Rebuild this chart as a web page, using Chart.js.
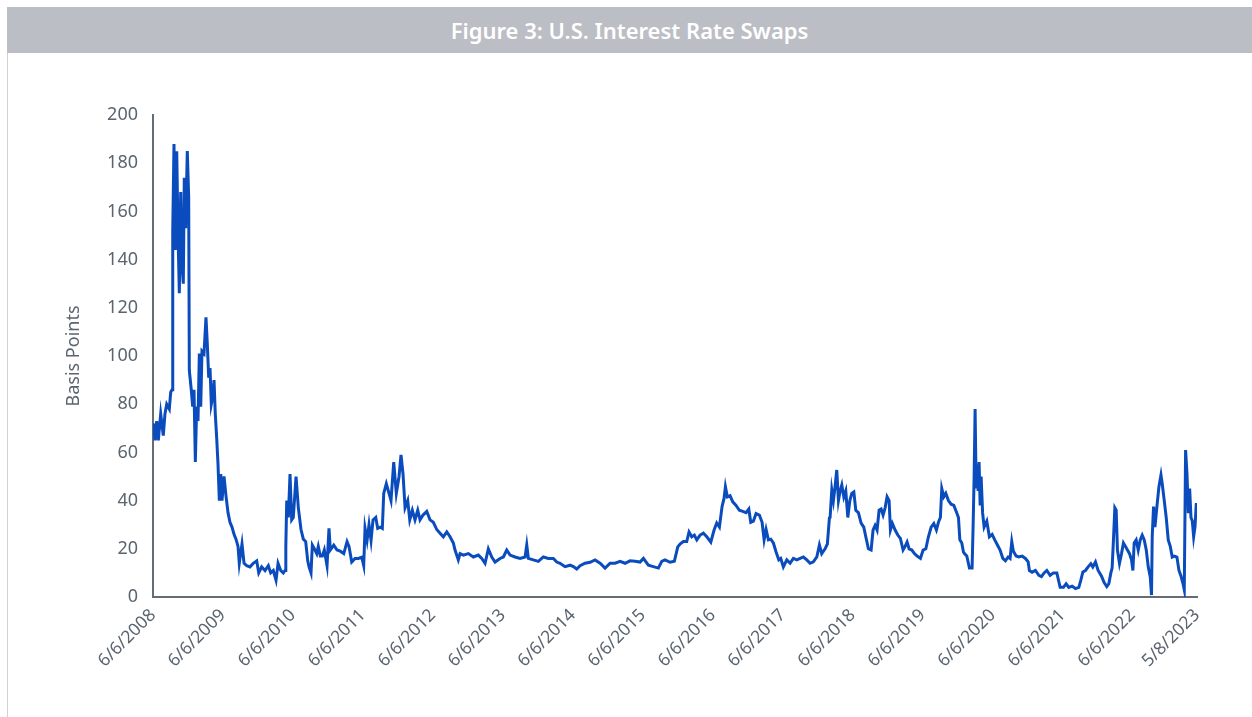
<!DOCTYPE html>
<html>
<head>
<meta charset="utf-8">
<script src="https://cdn.jsdelivr.net/npm/chart.js@4.4.0/dist/chart.umd.min.js"></script>
<style>
    html, body { margin: 0; padding: 0; background: #fff; }
    body { width: 1252px; height: 717px; position: relative; overflow: hidden; font-family: 'Noto Sans', sans-serif; }
    #titleBar {
        position: absolute; left: 7px; top: 7px; width: 1245px; height: 46px;
        background: #bbbec4; color: #fff; font-weight: 600; font-size: 22px;
        text-align: center; line-height: 46px;
    }
    #frame { position: absolute; left: 7px; top: 53px; width: 1px; height: 664px; background: #d0d2d6; }
    #wrap { position: absolute; left: 0; top: 0; width: 1252px; height: 717px; }
</style>
</head>
<body>
<div id="titleBar">Figure 3: U.S. Interest Rate Swaps</div>
<div id="frame"></div>
<div id="wrap"><canvas id="swapChart"></canvas></div>
<script>
// dates as decimal years, values in basis points
const dates = [
    2008.433, 2008.458, 2008.482, 2008.505, 2008.539, 2008.576, 2008.600, 2008.625, 2008.662, 2008.682,
    2008.701, 2008.711, 2008.729, 2008.748, 2008.768, 2008.786, 2008.805, 2008.825, 2008.843, 2008.862,
    2008.876, 2008.896, 2008.919, 2008.939, 2008.948, 2008.976, 2008.996, 2009.015, 2009.034, 2009.053,
    2009.072, 2009.091, 2009.111, 2009.129, 2009.158, 2009.186, 2009.205, 2009.225, 2009.244, 2009.262,
    2009.282, 2009.301, 2009.319, 2009.339, 2009.358, 2009.377, 2009.397, 2009.415, 2009.444, 2009.472,
    2009.501, 2009.529, 2009.558, 2009.587, 2009.615, 2009.644, 2009.662, 2009.701, 2009.730, 2009.768,
    2009.815, 2009.862, 2009.911, 2009.940, 2009.982, 2010.030, 2010.077, 2010.111, 2010.148, 2010.187,
    2010.216, 2010.254, 2010.291, 2010.316, 2010.327, 2010.340, 2010.363, 2010.387, 2010.411, 2010.434,
    2010.473, 2010.506, 2010.544, 2010.577, 2010.611, 2010.640, 2010.659, 2010.687, 2010.706, 2010.744,
    2010.769, 2010.791, 2010.820, 2010.849, 2010.877, 2010.916, 2010.944, 2010.963, 2011.012, 2011.059,
    2011.106, 2011.155, 2011.202, 2011.230, 2011.269, 2011.316, 2011.363, 2011.412, 2011.440, 2011.459,
    2011.488, 2011.516, 2011.545, 2011.573, 2011.612, 2011.640, 2011.678, 2011.706, 2011.726, 2011.763,
    2011.802, 2011.830, 2011.869, 2011.906, 2011.945, 2011.973, 2012.002, 2012.031, 2012.069, 2012.098,
    2012.135, 2012.173, 2012.212, 2012.245, 2012.288, 2012.341, 2012.388, 2012.435, 2012.484, 2012.531,
    2012.578, 2012.627, 2012.674, 2012.721, 2012.745, 2012.792, 2012.817, 2012.864, 2012.935, 2013.007,
    2013.078, 2013.127, 2013.174, 2013.221, 2013.270, 2013.317, 2013.388, 2013.436, 2013.484, 2013.531,
    2013.603, 2013.674, 2013.746, 2013.770, 2013.793, 2013.864, 2013.936, 2014.007, 2014.079, 2014.150,
    2014.199, 2014.246, 2014.317, 2014.389, 2014.436, 2014.484, 2014.532, 2014.603, 2014.675, 2014.746,
    2014.818, 2014.889, 2014.961, 2015.032, 2015.104, 2015.175, 2015.246, 2015.318, 2015.389, 2015.437,
    2015.508, 2015.579, 2015.651, 2015.699, 2015.746, 2015.818, 2015.879, 2015.928, 2015.961, 2016.008,
    2016.056, 2016.089, 2016.128, 2016.165, 2016.200, 2016.247, 2016.294, 2016.343, 2016.400, 2016.447,
    2016.485, 2016.523, 2016.561, 2016.590, 2016.609, 2016.637, 2016.676, 2016.714, 2016.761, 2016.808,
    2016.857, 2016.904, 2016.943, 2016.971, 2017.009, 2017.047, 2017.094, 2017.133, 2017.162, 2017.190,
    2017.223, 2017.257, 2017.294, 2017.333, 2017.372, 2017.400, 2017.437, 2017.486, 2017.533, 2017.580,
    2017.629, 2017.676, 2017.723, 2017.772, 2017.819, 2017.866, 2017.915, 2017.952, 2017.985, 2018.033,
    2018.066, 2018.095, 2018.105, 2018.129, 2018.152, 2018.176, 2018.200, 2018.224, 2018.248, 2018.272,
    2018.301, 2018.329, 2018.358, 2018.387, 2018.415, 2018.444, 2018.472, 2018.509, 2018.548, 2018.586,
    2018.615, 2018.652, 2018.691, 2018.719, 2018.748, 2018.776, 2018.805, 2018.834, 2018.862, 2018.891,
    2018.919, 2018.948, 2018.967, 2018.995, 2019.034, 2019.072, 2019.109, 2019.148, 2019.177, 2019.205,
    2019.234, 2019.273, 2019.310, 2019.348, 2019.396, 2019.434, 2019.473, 2019.510, 2019.549, 2019.587,
    2019.624, 2019.653, 2019.681, 2019.701, 2019.730, 2019.758, 2019.796, 2019.834, 2019.873, 2019.910,
    2019.939, 2019.959, 2019.987, 2020.010, 2020.025, 2020.058, 2020.096, 2020.134, 2020.149, 2020.163,
    2020.177, 2020.192, 2020.206, 2020.220, 2020.234, 2020.249, 2020.263, 2020.284, 2020.306, 2020.344,
    2020.381, 2020.420, 2020.458, 2020.496, 2020.534, 2020.573, 2020.610, 2020.649, 2020.677, 2020.701,
    2020.724, 2020.763, 2020.801, 2020.849, 2020.896, 2020.935, 2020.953, 2020.992, 2021.039, 2021.088,
    2021.125, 2021.163, 2021.202, 2021.249, 2021.296, 2021.345, 2021.392, 2021.439, 2021.478, 2021.516,
    2021.563, 2021.611, 2021.659, 2021.688, 2021.717, 2021.754, 2021.792, 2021.831, 2021.859, 2021.897,
    2021.935, 2021.982, 2022.021, 2022.059, 2022.088, 2022.117, 2022.135, 2022.154, 2022.174, 2022.193,
    2022.211, 2022.240, 2022.269, 2022.297, 2022.326, 2022.354, 2022.383, 2022.412, 2022.432, 2022.450,
    2022.479, 2022.508, 2022.537, 2022.565, 2022.594, 2022.623, 2022.651, 2022.680, 2022.698, 2022.708,
    2022.727, 2022.747, 2022.775, 2022.804, 2022.833, 2022.851, 2022.880, 2022.908, 2022.937, 2022.966,
    2022.994, 2023.023, 2023.061, 2023.090, 2023.119, 2023.147, 2023.166, 2023.185, 2023.205, 2023.224,
    2023.243, 2023.262, 2023.281, 2023.300, 2023.319, 2023.338, 2023.348
];

const bps = [
    72, 65, 73, 65, 76, 67, 76, 80, 78, 85,
    86, 152, 188, 144, 185, 152, 126, 168, 138, 130,
    174, 153, 185, 166, 94, 86, 79, 86, 56, 79,
    73, 101, 79, 102, 101, 116, 105, 91, 95, 80,
    83, 90, 76, 66, 55, 40, 51, 40, 50, 42,
    35, 31, 29, 26, 24, 21, 14, 22, 14, 13,
    12.5, 14, 15, 10, 12.5, 11, 13, 10, 11, 7,
    14, 11, 10, 11, 21, 40, 33, 51, 32, 33,
    50, 37, 28, 24, 23, 15, 12.5, 10, 21.5, 19.5,
    18, 21, 17, 17, 19.5, 13, 28.5, 19.5, 21.5, 19.5,
    19, 18, 23, 21, 14.5, 16, 16, 16.5, 13, 28.5,
    23.5, 30, 23.5, 32, 33, 28.5, 29, 28.5, 43, 47,
    43, 40, 56, 43, 50, 59, 51, 37, 40, 32,
    36, 32, 36, 32, 34, 35.5, 32, 31, 28, 26.5,
    25, 27, 25, 22.4, 19.5, 15.4, 18, 17.4, 18, 16.6,
    17.4, 16, 14, 20, 16.6, 14.5, 16, 16.6, 19.5, 17.4,
    16.6, 16, 16.6, 21.6, 16, 15.4, 14.8, 16.6, 16, 16,
    14.5, 14, 12.6, 13.2, 12.6, 11.6, 13, 14, 14.4, 15.4,
    14, 12, 14, 14, 14.8, 14, 15, 14.8, 14.5, 16,
    13.2, 12.6, 12, 14.8, 15.4, 14.4, 14.8, 20.8, 22, 23,
    23, 27, 25, 25.7, 23.7, 25.7, 26.5, 25, 22.8, 27.8,
    30.7, 29, 37.5, 41, 45.8, 41.5, 42, 39.5, 38, 36,
    35.5, 35, 36.5, 31, 31.5, 34.6, 34, 31, 23.7, 28,
    23.7, 24, 22.4, 18.7, 15.4, 16, 12.5, 15.4, 14, 16,
    15.4, 16, 16.6, 15.4, 14, 14.6, 16.6, 21.6, 18, 20,
    22, 32.8, 33, 44.4, 40, 45.8, 52.7, 40, 44, 46.5,
    41.5, 44, 33, 40, 43, 43.6, 36, 35, 30.7, 29,
    25, 20, 19.5, 27.8, 29.7, 27.8, 36, 36.5, 34, 37,
    41.6, 40, 27.8, 30.5, 27.8, 25.7, 24.3, 19.5, 21, 22.8,
    20, 19.5, 18, 17, 16, 19.5, 20, 25, 29, 30.5,
    27.8, 31, 33, 45, 41.6, 43, 40, 38.5, 38, 35.3,
    33, 23.7, 22.4, 18.7, 18, 17, 12, 12, 30, 50,
    78, 45, 55, 44, 56, 38, 50, 35, 29, 31.5,
    25, 26, 23.7, 21.6, 19.5, 16, 15, 16.6, 16, 23,
    19, 17, 16.6, 17, 16, 14.6, 11, 10.3, 11, 9,
    8.5, 10, 11, 9, 10, 10, 4, 4, 5.5, 4,
    4.5, 3.5, 4, 7, 10.4, 11, 12.5, 13.8, 12.5, 14.6,
    11, 8.7, 6, 4.3, 5.5, 10, 12, 23.7, 37, 36,
    19.5, 14, 18, 22.4, 21, 19.5, 18, 15.4, 11, 22.4,
    23.7, 19.5, 23.7, 25.7, 23.7, 19.5, 12.5, 8.3, 0.8, 25,
    37.5, 29, 37.5, 45.8, 50.6, 47, 40, 33, 23.7, 21,
    16.6, 17, 16.6, 11, 8.7, 5.7, 3, 61, 51, 34.8,
    45, 33, 31.5, 25, 29, 39, 34.8
];

const tickLabels = [
    '6/6/2008', '6/6/2009', '6/6/2010', '6/6/2011', '6/6/2012', '6/6/2013', '6/6/2014', '6/6/2015',
    '6/6/2016', '6/6/2017', '6/6/2018', '6/6/2019', '6/6/2020', '6/6/2021', '6/6/2022', '5/8/2023'
];

const yTicks = [0, 20, 40, 60, 80, 100, 120, 140, 160, 180, 200];

// m/d/yyyy -> decimal year
function toDecimalYear(label) {
    const [m, d, y] = label.split('/').map(Number);
    const start = Date.UTC(y, 0, 1);
    const next = Date.UTC(y + 1, 0, 1);
    return y + (Date.UTC(y, m - 1, d) - start) / (next - start);
}

const tickYears = tickLabels.map(toDecimalYear);
const points = dates.map((d, i) => ({ x: d, y: bps[i] }));

const axisColor = '#646c75';
const textColor = '#5b6570';

new Chart(document.getElementById('swapChart'), {
    type: 'line',
    data: {
        datasets: [{
            data: points,
            borderColor: '#0a4cbd',
            borderWidth: 3,
            pointRadius: 0,
            tension: 0,
            fill: false
        }]
    },
    options: {
        responsive: true,
        maintainAspectRatio: false,
        animation: false,
        layout: { padding: { left: 0, right: 55, top: 115, bottom: 0 } },
        plugins: {
            legend: { display: false },
            tooltip: { enabled: false }
        },
        scales: {
            x: {
                type: 'linear',
                min: tickYears[0],
                max: tickYears[tickYears.length - 1],
                afterBuildTicks: function (scale) {
                    scale.ticks = tickYears.map(v => ({ value: v }));
                },
                afterFit: function (scale) { scale.height = 120; },
                grid: { display: false, drawTicks: false },
                border: { display: true, color: axisColor, width: 2 },
                ticks: {
                    autoSkip: false,
                    maxRotation: 45,
                    minRotation: 45,
                    padding: 8,
                    color: textColor,
                    font: { family: 'Noto Sans', size: 17.5 },
                    callback: function (value, index) { return tickLabels[index]; }
                }
            },
            y: {
                min: 0,
                max: 200,
                afterBuildTicks: function (scale) {
                    scale.ticks = yTicks.map(v => ({ value: v }));
                },
                afterFit: function (scale) { scale.width = 153; },
                grid: { display: false, drawTicks: false },
                border: { display: true, color: axisColor, width: 2 },
                ticks: {
                    padding: 15,
                    color: textColor,
                    font: { family: 'Noto Sans', size: 18 }
                },
                title: {
                    display: true,
                    text: 'Basis Points',
                    color: textColor,
                    font: { family: 'Noto Sans', size: 18 },
                    padding: { top: 63, bottom: 0 }
                }
            }
        }
    }
});
</script>
</body>
</html>
